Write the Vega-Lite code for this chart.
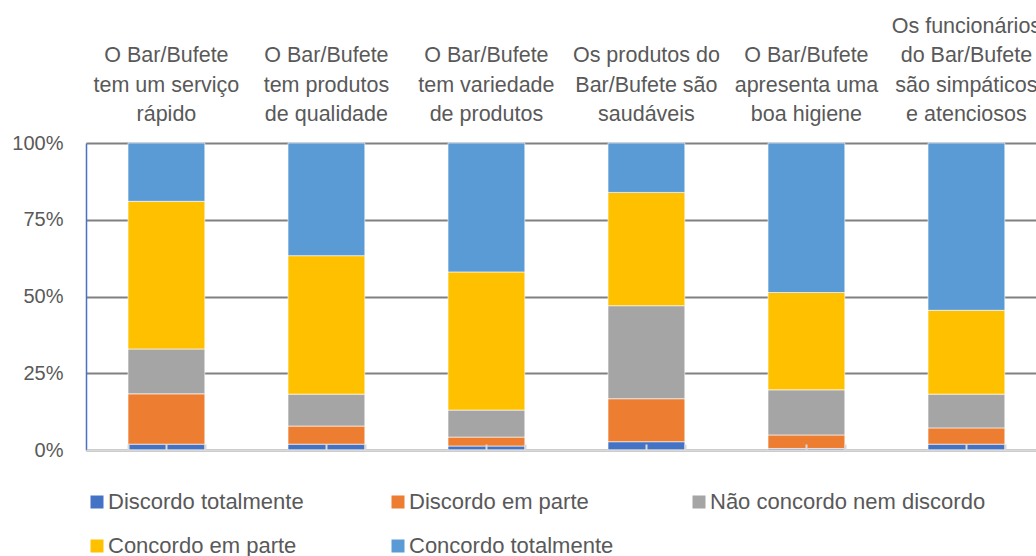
{
  "$schema": "https://vega.github.io/schema/vega-lite/v6.json",
  "width": 950,
  "height": 307,
  "autosize": {"type": "none"},
  "padding": {"left": 86, "top": 143, "right": 0, "bottom": 106},
  "config": {
    "font": "Liberation Sans",
    "view": {"stroke": null},
    "axis": {"labelFont": "Liberation Sans", "labelColor": "#595959"},
    "legend": {"labelFont": "Liberation Sans", "labelColor": "#595959"}
  },
  "data": {
    "values": [
      {"item": "O Bar/Bufete|tem um serviço|rápido", "resp": "Discordo totalmente", "ord": 1, "value": 1.9},
      {"item": "O Bar/Bufete|tem um serviço|rápido", "resp": "Discordo em parte", "ord": 2, "value": 16.4},
      {"item": "O Bar/Bufete|tem um serviço|rápido", "resp": "Não concordo nem discordo", "ord": 3, "value": 14.6},
      {"item": "O Bar/Bufete|tem um serviço|rápido", "resp": "Concordo em parte", "ord": 4, "value": 48.1},
      {"item": "O Bar/Bufete|tem um serviço|rápido", "resp": "Concordo totalmente", "ord": 5, "value": 19.0},
      {"item": "O Bar/Bufete|tem produtos|de qualidade", "resp": "Discordo totalmente", "ord": 1, "value": 1.9},
      {"item": "O Bar/Bufete|tem produtos|de qualidade", "resp": "Discordo em parte", "ord": 2, "value": 5.9},
      {"item": "O Bar/Bufete|tem produtos|de qualidade", "resp": "Não concordo nem discordo", "ord": 3, "value": 10.4},
      {"item": "O Bar/Bufete|tem produtos|de qualidade", "resp": "Concordo em parte", "ord": 4, "value": 45.1},
      {"item": "O Bar/Bufete|tem produtos|de qualidade", "resp": "Concordo totalmente", "ord": 5, "value": 36.7},
      {"item": "O Bar/Bufete|tem variedade|de produtos", "resp": "Discordo totalmente", "ord": 1, "value": 1.3},
      {"item": "O Bar/Bufete|tem variedade|de produtos", "resp": "Discordo em parte", "ord": 2, "value": 2.9},
      {"item": "O Bar/Bufete|tem variedade|de produtos", "resp": "Não concordo nem discordo", "ord": 3, "value": 8.8},
      {"item": "O Bar/Bufete|tem variedade|de produtos", "resp": "Concordo em parte", "ord": 4, "value": 45.0},
      {"item": "O Bar/Bufete|tem variedade|de produtos", "resp": "Concordo totalmente", "ord": 5, "value": 42.0},
      {"item": "Os produtos do|Bar/Bufete são|saudáveis", "resp": "Discordo totalmente", "ord": 1, "value": 2.7},
      {"item": "Os produtos do|Bar/Bufete são|saudáveis", "resp": "Discordo em parte", "ord": 2, "value": 14.0},
      {"item": "Os produtos do|Bar/Bufete são|saudáveis", "resp": "Não concordo nem discordo", "ord": 3, "value": 30.3},
      {"item": "Os produtos do|Bar/Bufete são|saudáveis", "resp": "Concordo em parte", "ord": 4, "value": 36.9},
      {"item": "Os produtos do|Bar/Bufete são|saudáveis", "resp": "Concordo totalmente", "ord": 5, "value": 16.1},
      {"item": "O Bar/Bufete|apresenta uma|boa higiene", "resp": "Discordo totalmente", "ord": 1, "value": 0.5},
      {"item": "O Bar/Bufete|apresenta uma|boa higiene", "resp": "Discordo em parte", "ord": 2, "value": 4.4},
      {"item": "O Bar/Bufete|apresenta uma|boa higiene", "resp": "Não concordo nem discordo", "ord": 3, "value": 14.7},
      {"item": "O Bar/Bufete|apresenta uma|boa higiene", "resp": "Concordo em parte", "ord": 4, "value": 31.7},
      {"item": "O Bar/Bufete|apresenta uma|boa higiene", "resp": "Concordo totalmente", "ord": 5, "value": 48.7},
      {"item": "Os funcionários|do Bar/Bufete|são simpáticos|e atenciosos", "resp": "Discordo totalmente", "ord": 1, "value": 1.9},
      {"item": "Os funcionários|do Bar/Bufete|são simpáticos|e atenciosos", "resp": "Discordo em parte", "ord": 2, "value": 5.3},
      {"item": "Os funcionários|do Bar/Bufete|são simpáticos|e atenciosos", "resp": "Não concordo nem discordo", "ord": 3, "value": 11.0},
      {"item": "Os funcionários|do Bar/Bufete|são simpáticos|e atenciosos", "resp": "Concordo em parte", "ord": 4, "value": 27.3},
      {"item": "Os funcionários|do Bar/Bufete|são simpáticos|e atenciosos", "resp": "Concordo totalmente", "ord": 5, "value": 54.5}
    ]
  },
  "layer": [
    {
      "mark": {"type": "bar", "stroke": "#ffffff", "strokeWidth": 0.6},
      "encoding": {
        "x": {
          "field": "item", "type": "nominal", "sort": null,
          "scale": {"paddingInner": 0.52, "paddingOuter": 0.22875, "align": 0.574},
          "axis": {
            "orient": "top", "title": null, "labelAngle": 0,
            "labelExpr": "split((length(split(datum.label, '|')) < 4 ? '|' : '') + datum.label, '|')",
            "ticks": false, "tickSize": 0, "domain": false,
            "labelFontSize": 21.5, "labelPadding": 111, "labelLineHeight": 29.5,
            "labelBaseline": "alphabetic", "labelLimit": 0, "labelAlign": "center"
          }
        },
        "y": {
          "field": "value", "type": "quantitative", "stack": "normalize",
          "scale": {"domain": [0, 1]},
          "axis": {
            "title": null, "values": [0, 0.25, 0.5, 0.75, 1], "format": ".0%",
            "grid": true, "gridColor": "#808080", "gridWidth": 2,
            "domainColor": "#4472C4", "domainWidth": 1.5,
            "ticks": false, "labelFontSize": 20, "labelPadding": 23
          }
        },
        "color": {
          "field": "resp", "type": "nominal",
          "scale": {
            "domain": ["Discordo totalmente", "Discordo em parte", "Não concordo nem discordo", "Concordo em parte", "Concordo totalmente"],
            "range": ["#4472C4", "#ED7D31", "#A5A5A5", "#FFC000", "#5B9BD5"]
          },
          "legend": {
            "orient": "none", "legendX": 0, "legendY": 348, "direction": "horizontal",
            "columns": 3, "title": null, "symbolType": "square", "symbolSize": 169,
            "symbolStrokeWidth": 0, "labelFontSize": 22, "columnPadding": 3,
            "rowPadding": 22, "labelOffset": 0, "gridAlign": "all", "padding": 0,
            "labelLimit": 0
          }
        },
        "order": {"field": "ord", "type": "quantitative"}
      }
    },
    {
      "mark": {"type": "rule", "opacity": 0},
      "encoding": {
        "x": {
          "field": "item", "type": "nominal", "sort": null,
          "axis": {
            "orient": "bottom", "title": null, "labels": false,
            "tickBand": "extent", "tickSize": -6, "tickColor": "#D9D9D9", "tickWidth": 2,
            "domainColor": "#D9D9D9", "domainWidth": 2, "zindex": 1
          }
        }
      }
    },
    {
      "mark": {"type": "rule", "opacity": 0},
      "encoding": {
        "x": {
          "field": "item", "type": "nominal", "sort": null,
          "axis": {
            "orient": "bottom", "title": null, "labels": false,
            "tickSize": -6, "tickColor": "#D9D9D9", "tickWidth": 2,
            "domain": false, "zindex": 1
          }
        }
      }
    }
  ],
  "resolve": {"axis": {"x": "independent"}}
}
